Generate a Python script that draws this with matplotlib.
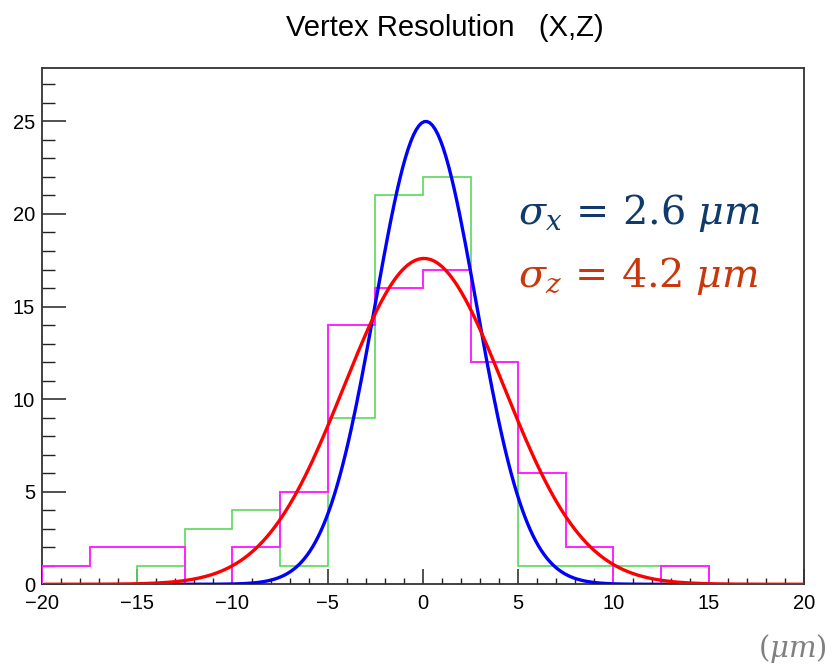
import numpy as np
import matplotlib
matplotlib.use("Agg")
import matplotlib.pyplot as plt
from matplotlib.ticker import MultipleLocator

plt.rcParams['font.family'] = ['Liberation Sans', 'DejaVu Sans']
plt.rcParams['mathtext.fontset'] = 'dejavuserif'

# histogram binning (um)
bin_edges = [-20, -17.5, -15, -12.5, -10, -7.5, -5, -2.5, 0,
             2.5, 5, 7.5, 10, 12.5, 15, 17.5, 20]

# entries per bin
counts_x = [0, 0, 1, 3, 4, 1, 9, 21, 22, 12, 1, 1, 1, 0, 0, 0]
counts_z = [1, 2, 2, 0, 2, 5, 14, 16, 17, 12, 6, 2, 0, 1, 0, 0]

# gaussian fit results: amplitude, mean, sigma, fit range
fit_x = {"amp": 25.0, "mean": 0.15, "sigma": 2.65, "range": (-14.2, 14.2)}
fit_z = {"amp": 17.6, "mean": 0.05, "sigma": 4.2, "range": (-19.8, 20.0)}


def gaus(fit, n=200):
    xs = np.linspace(fit["range"][0], fit["range"][1], n)
    ys = fit["amp"] * np.exp(-0.5 * ((xs - fit["mean"]) / fit["sigma"]) ** 2)
    return xs, ys


fig = plt.figure(figsize=(8.36, 6.67), dpi=100)
ax = fig.add_axes([0.0502, 0.124, 0.9115, 0.7745])

ax.stairs(counts_x, bin_edges, color='#5ad85a', lw=1.2, zorder=2)
ax.stairs(counts_z, bin_edges, color='#ff22ff', lw=1.4, zorder=3)

xs, ys = gaus(fit_x)
ax.plot(xs, ys, color='#0000ff', lw=2.4, zorder=4)
xs, ys = gaus(fit_z)
ax.plot(xs, ys, color='#ff0000', lw=2.4, zorder=5)

ax.set_xlim(-20, 20)
ax.set_ylim(0, 27.9)

ax.xaxis.set_major_locator(MultipleLocator(5))
ax.xaxis.set_minor_locator(MultipleLocator(1))
ax.yaxis.set_major_locator(MultipleLocator(5))
ax.yaxis.set_minor_locator(MultipleLocator(1))

ax.tick_params(axis='x', which='major', direction='in', length=11, width=1.1,
               labelsize=14.5, pad=7, color='#222222')
ax.tick_params(axis='x', which='minor', direction='in', length=4.5, width=1.0,
               color='#222222')
ax.tick_params(axis='y', which='major', direction='in', length=17, width=1.1,
               labelsize=14.5, pad=5, color='#222222')
ax.tick_params(axis='y', which='minor', direction='in', length=9, width=1.0,
               color='#222222')

for s in ax.spines.values():
    s.set_color('#333333')
    s.set_linewidth(1.3)

fig.text(0.532, 0.958, "Vertex Resolution   (X,Z)", ha='center', va='center',
         fontsize=21)

ax.text(0.625, 0.718, r"$\sigma_x\,=\,2.6\ \mu m$", transform=ax.transAxes,
        fontsize=28.5, color='#0f3a6a', va='center', ha='left')
ax.text(0.625, 0.597, r"$\sigma_z\,=\,4.2\ \mu m$", transform=ax.transAxes,
        fontsize=28.5, color='#c8380c', va='center', ha='left')

fig.text(0.948, 0.027, r"$(\mu m)$", ha='center', va='center',
         fontsize=21, color='#808080')

fig.savefig("out.png", dpi=100)
